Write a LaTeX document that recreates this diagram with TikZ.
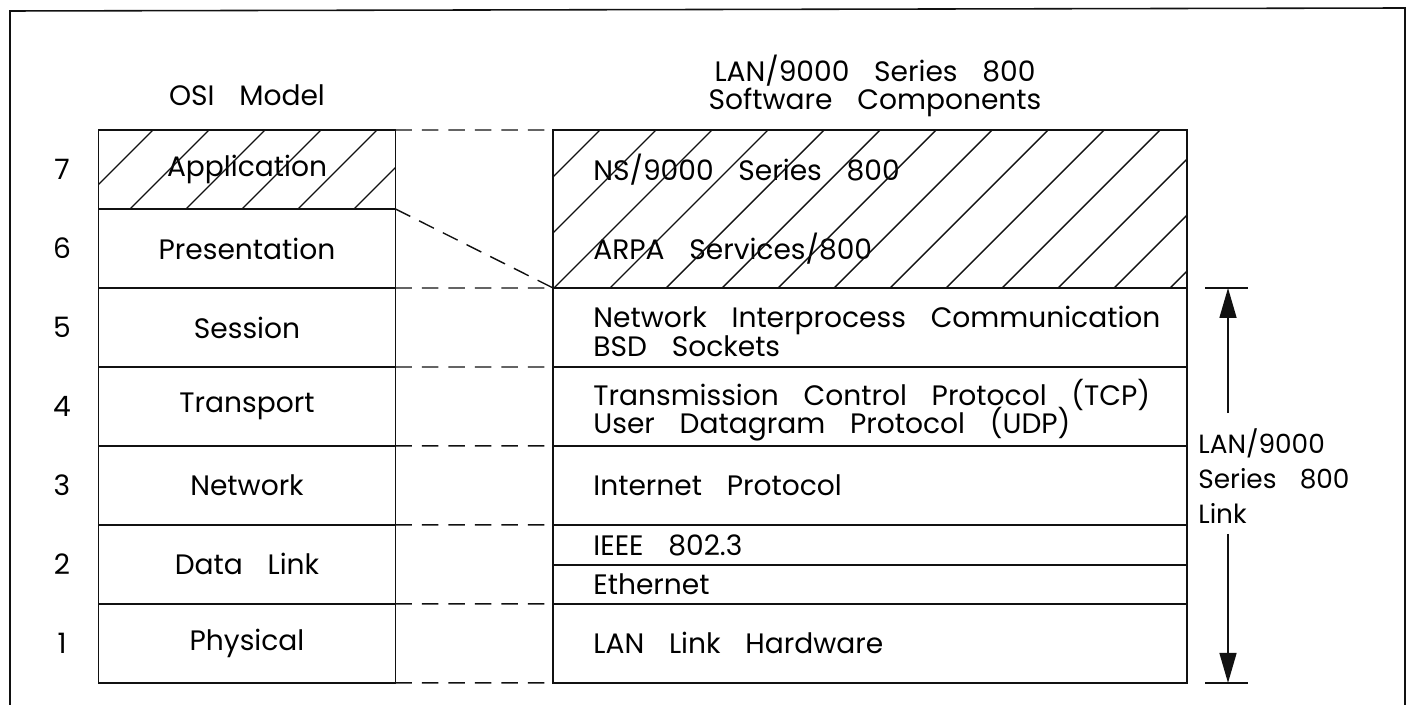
\documentclass[tikz,border=0pt]{standalone}
\usepackage{fontspec}
\setmainfont{Poppins}[WordSpace=3.3]
\usepackage{tikz}
\usetikzlibrary{positioning,arrows.meta}
\definecolor{ink}{HTML}{111111}
\newcommand{\lbl}{\fontsize{16}{16}\selectfont\lineskiplimit=-20pt}
\tikzset{
  layer/.style   = {rectangle, draw=ink, line width=0.9pt, inner sep=0pt, outer sep=0pt,
                    minimum width=5.94cm, minimum height=1.58cm, font=\lbl},
  stack/.style   = {rectangle, draw=ink, line width=0.9pt, inner sep=0pt, outer sep=0pt,
                    minimum width=12.68cm, minimum height=#1},
  txt/.style     = {font=\lbl, inner sep=0pt, align=left},
  num/.style     = {font=\lbl, inner sep=0pt},
  title/.style   = {font=\fontsize{16}{16}\selectfont, align=center, inner sep=0pt},
  hatch/.style   = {draw=ink, line width=0.8pt},
  guide/.style   = {draw=ink, line width=0.8pt, dash pattern=on 0.33cm off 0.2cm},
  linkarrow/.style = {-{Triangle[length=0.6cm,width=0.34cm]}, draw=ink, line width=0.9pt},
}

\begin{document}
\begin{tikzpicture}[x=0.02cm, y=-0.02cm]
  \useasboundingbox (0,0) rectangle (1416,705);
  % frame
  \draw[ink, line width=0.9pt] (10,705) -- (10,11) -- (1405,8) -- (1405,705);

  % OSI column
  \node[title] (osititle) at (247,95) {OSI Model};
  \node[layer] (app) at (247,169.5) {Application};
  \node[layer, below=0pt of app] (pres) {Presentation};
  \node[layer, below=0pt of pres] (sess) {Session};
  \node[layer, below=0pt of sess] (trans) {Transport};
  \node[layer, below=0pt of trans] (netw) {Network};
  \node[layer, below=0pt of netw] (dlink) {Data Link};
  \node[layer, below=0pt of dlink] (phys) {Physical};
  \foreach \lay/\n in {app/7, pres/6, sess/5, trans/4, netw/3, dlink/2, phys/1}
    \node[num] (n\n) at (\lay.center -| 62,0) {\n};

  % software column
  \node[title] (swtitle) at (875,86) {LAN/9000 Series 800\\Software Components};
  \node[stack=3.16cm] (upper) at (870,209) {};
  \node[stack=1.58cm, below=0pt of upper] (nipc) {};
  \node[stack=1.58cm, below=0pt of nipc] (tcpudp) {};
  \node[stack=1.58cm, below=0pt of tcpudp] (ip) {};
  \node[stack=0.8cm, below=0pt of ip] (ieee) {};
  \node[stack=0.78cm, below=0pt of ieee] (ether) {};
  \node[stack=1.58cm, below=0pt of ether] (hw) {};
  \node[txt, anchor=west] (ns) at (593,170) {NS/9000 Series 800};
  \node[txt, anchor=west] (arpa) at (593,249) {ARPA Services/800};
  \node[txt, right=0.8cm of nipc.west, yshift=-0.08cm] (nipctxt) {Network Interprocess Communication\\BSD Sockets};
  \node[txt, right=0.8cm of tcpudp.west, yshift=-0.08cm] (tcptxt) {Transmission Control Protocol (TCP)\\User Datagram Protocol (UDP)};
  \node[txt, right=0.8cm of ip.west] (iptxt) {Internet Protocol};
  \node[txt, right=0.8cm of ieee.west] (ieeetxt) {IEEE 802.3};
  \node[txt, right=0.8cm of ether.west] (ethertxt) {Ethernet};
  \node[txt, right=0.8cm of hw.west] (hwtxt) {LAN Link Hardware};

  % hatching
  \begin{scope}
    \clip (app.south west) rectangle (app.north east);
    \foreach \k in {-2,...,6} \draw[hatch] (153+56*\k,130) -- ++(-79,79);
  \end{scope}
  \begin{scope}
    \clip (upper.south west) rectangle (upper.north east);
    \foreach \k in {-3,...,13} \draw[hatch] (600+56*\k,130) -- ++(-158,158);
  \end{scope}

  % dashed correspondence
  \draw[guide] (app.north east) -- (upper.north west);
  \draw[guide] (pres.north east) -- (upper.south west);
  \foreach \a/\b in {pres/nipc, sess/tcpudp, trans/ip, netw/ieee, dlink/hw}
    \draw[guide] (\a.south east) -- (\b.north west);
  \draw[guide] (phys.south east) -- (hw.south west);

  % link span
  \node[txt, anchor=west, font=\fontsize{15}{20}\selectfont] (linklbl) at (1198,476)
    {LAN/9000\\Series 800\\Link};
  \coordinate (linktop) at (upper.south east -| 1228,0);
  \coordinate (linkbot) at (hw.south east -| 1228,0);
  \draw[ink, line width=0.9pt] ([xshift=-0.46cm]linktop) -- ([xshift=0.4cm]linktop);
  \draw[ink, line width=0.9pt] ([xshift=-0.46cm]linkbot) -- ([xshift=0.4cm]linkbot);
  \draw[linkarrow] ([yshift=0.3cm]linklbl.north -| linktop) -- (linktop);
  \draw[linkarrow] ([yshift=-0.2cm]linklbl.south -| linkbot) -- (linkbot);
\end{tikzpicture}
\end{document}
